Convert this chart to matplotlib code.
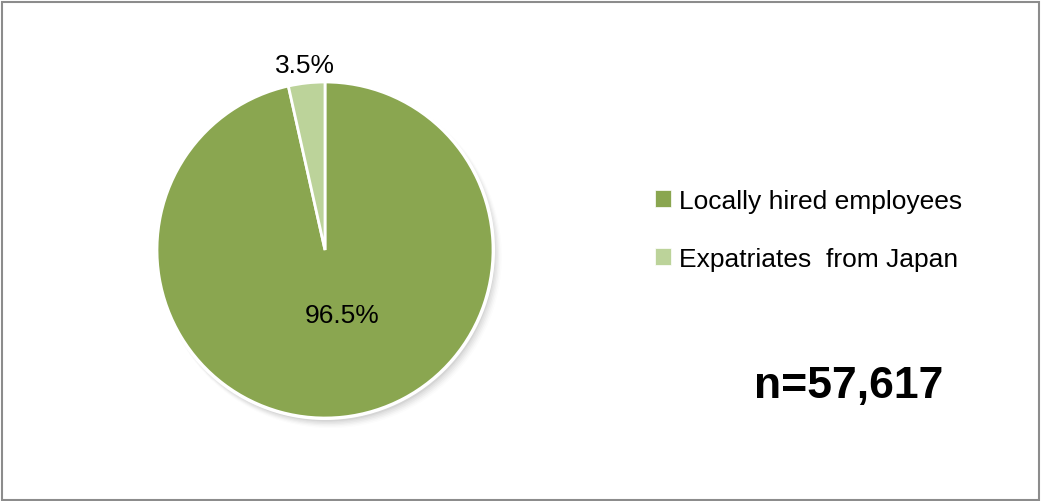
import matplotlib
matplotlib.use("Agg")
import matplotlib.pyplot as plt
from matplotlib.patches import Rectangle, Circle
import numpy as np

plt.rcParams['font.family'] = ['Liberation Sans', 'DejaVu Sans']

categories = ["Locally hired employees", "Expatriates  from Japan"]
shares = [96.5, 3.5]
colors = ["#8AA650", "#BCD39A"]
sample_note = "n=57,617"

W, H = 1041, 502
fig = plt.figure(figsize=(W / 100, H / 100), dpi=100)

# pie axes: centre (325, 251) px, radius 168 px
cx, cy, r = 325, 251, 168
ax = fig.add_axes([(cx - r) / W, (H - cy - r) / H, 2 * r / W, 2 * r / H])
ax.axis("off")

# soft drop shadow
for k, a in enumerate(np.linspace(0.10, 0.02, 6)):
    ax.add_patch(Circle((0.012 + 0.004 * k, -0.02 - 0.004 * k), 1.0 + 0.004 * k,
                        facecolor="#7f7f7f", edgecolor="none", alpha=a,
                        zorder=0, clip_on=False))
# thin white rim round the pie
ax.add_patch(Circle((0, 0), 1.012, facecolor="white", edgecolor="none",
                    zorder=1, clip_on=False))

wedges, _ = ax.pie(shares, colors=colors, startangle=90, counterclock=False,
                   radius=1.0, wedgeprops=dict(edgecolor="white", linewidth=2),
                   frame=False)
for w in wedges:
    w.set_zorder(2)
    w.set_clip_on(False)
ax.set_xlim(-1, 1)
ax.set_ylim(-1, 1)
ax.set_aspect("auto")

# percentage labels: large slice inside, small slice outside
label_dist = [0.39, 1.11]
label_shift = [(0.06, 0.0), (0.0, 0.0)]
for w, v, d, (sx, sy) in zip(wedges, shares, label_dist, label_shift):
    mid = np.deg2rad((w.theta1 + w.theta2) / 2)
    ax.text(d * np.cos(mid) + sx, d * np.sin(mid) + sy, f"{v:.1f}%",
            fontsize=19, ha="center", va="center", color="black",
            zorder=5, clip_on=False)

leg = fig.legend(wedges, categories, loc="center left",
                 bbox_to_anchor=(644 / W, 1 - 231 / H), frameon=False,
                 fontsize=19, handlelength=0.62, handleheight=0.62,
                 handletextpad=0.3, labelspacing=1.3, borderaxespad=0)
for h in leg.legend_handles:
    h.set_edgecolor("white")
    h.set_linewidth(0.5)

fig.text(849 / W, 1 - 387 / H, sample_note, fontsize=32, fontweight="bold",
         ha="center", va="center")

# outer frame
fig.add_artist(Rectangle((1.5 / W, 1.5 / H), (W - 4) / W, (H - 4) / H,
                         transform=fig.transFigure, fill=False,
                         edgecolor="#8c8c8c", linewidth=1.5))

fig.savefig("out.png", dpi=100)
